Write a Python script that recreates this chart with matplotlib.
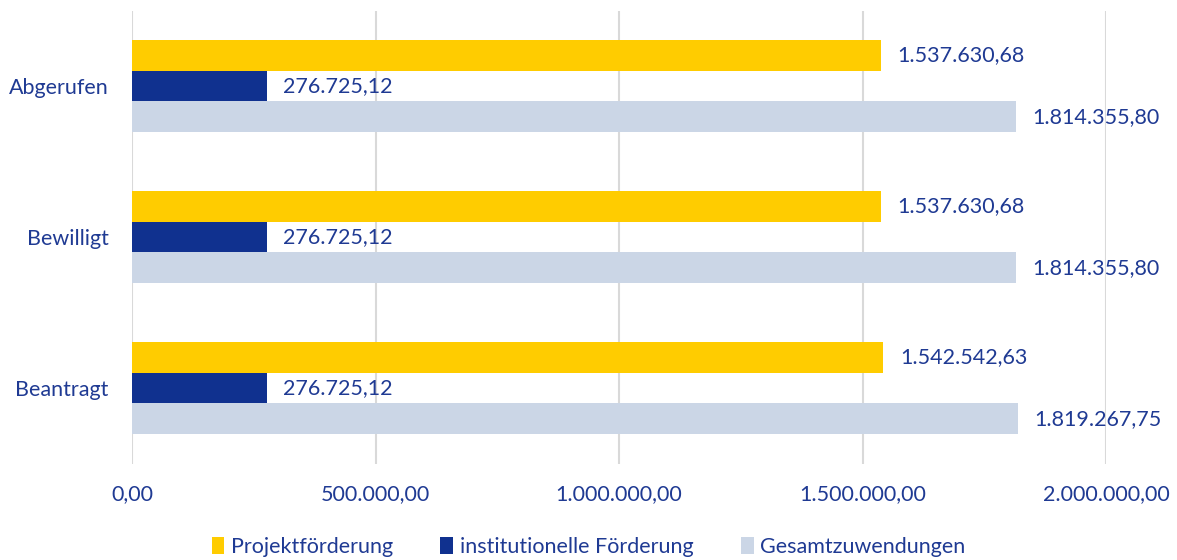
import numpy as np
import matplotlib.pyplot as plt

## Data
categories = ['Beantragt', 'Bewilligt', 'Abgerufen']
projekt = [1542542.63, 1537630.68, 1537630.68]
institutionell = [276725.12, 276725.12, 276725.12]
gesamt = [1819267.75, 1814355.80, 1814355.80]
series_names = ['Projektförderung', 'institutionelle Förderung', 'Gesamtzuwendungen']
x_ticks = [0, 500000, 1000000, 1500000, 2000000]

## Style
plt.rcParams['font.family'] = ['Lato', 'DejaVu Sans']
text_color = '#1F3A93'
colors = ['#FFCC00', '#10318F', '#CBD6E6']
fs = 15.5

def de_fmt(v):
    s = f"{v:,.2f}"
    return s.replace(',', 'X').replace('.', ',').replace('X', '.')

fig = plt.figure(figsize=(11.77, 5.6), dpi=100)
ax = fig.add_axes([132/1177, 1 - 463.5/560, (1106-132)/1177, 453/560])

y = np.arange(len(categories))
h = 0.205
offsets = [h, 0, -h]
for vals, off, col, name in zip([projekt, institutionell, gesamt], offsets, colors, series_names):
    bars = ax.barh(y + off, vals, height=h, color=col, label=name, zorder=3)
    for b, v in zip(bars, vals):
        ax.annotate(de_fmt(v), (b.get_width(), b.get_y() + h/2), xytext=(12, 0),
                    textcoords='offset points', va='center', ha='left',
                    fontsize=fs, color=text_color)

ax.set_xlim(0, 2000000)
ax.set_ylim(-0.5, 2.5)
ax.set_xticks(x_ticks)
ax.set_xticklabels([de_fmt(v) for v in x_ticks], fontsize=fs, color=text_color)
ax.set_yticks(y)
ax.set_yticklabels(categories, fontsize=fs, color=text_color)
ax.tick_params(axis='both', length=0)
ax.tick_params(axis='x', pad=15)
ax.tick_params(axis='y', pad=17)
ax.grid(axis='x', color='#D9D9D9', linewidth=1.5, zorder=0)
for s in ax.spines.values():
    s.set_visible(False)

leg = fig.legend(loc='center', bbox_to_anchor=(0.5, 1 - 547/560), ncol=3, frameon=False,
                 fontsize=fs, handlelength=0.6, handleheight=0.8, handletextpad=0.3,
                 columnspacing=2.2)
for t in leg.get_texts():
    t.set_color(text_color)

plt.savefig('out.png', dpi=100)
